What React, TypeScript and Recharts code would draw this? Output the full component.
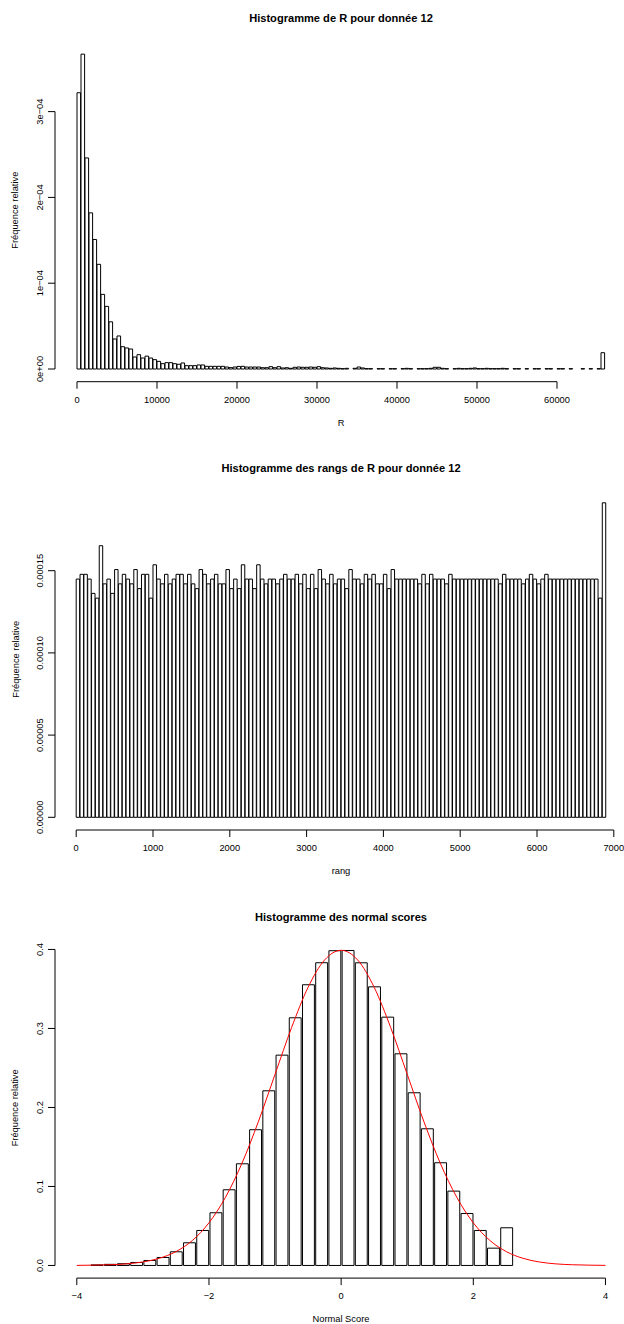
import React from "react";
import {
  ComposedChart,
  Bar,
  Line,
  XAxis,
  YAxis,
  ReferenceLine,
} from "recharts";

const FONT = '"Liberation Sans", Arial, Helvetica, sans-serif';

// ---- Histogramme de R (densité, en unités de 1e-4), classes de 500
const rBreakStart = 0;
const rBreakWidth = 500;
const rDensityE4 = [
  3.22, 3.67, 2.46, 1.82, 1.51, 1.22, 0.87, 0.73, 0.55, 0.35,
  0.385, 0.26, 0.245, 0.233, 0.14, 0.167, 0.128, 0.15, 0.128, 0.109,
  0.089, 0.062, 0.074, 0.074, 0.062, 0.055, 0.07, 0.039, 0.039, 0.039,
  0.047, 0.047, 0.031, 0.031, 0.031, 0.031, 0.031, 0.023, 0.016, 0.023,
  0.03, 0.031, 0.023, 0.023, 0.023, 0.023, 0.015, 0.015, 0.027, 0.015,
  0.027, 0.012, 0.015, 0.008, 0.02, 0.023, 0.02, 0.02, 0.023, 0.02,
  0.027, 0.015, 0.012, 0.008, 0.012, 0.008, 0.004, 0.008, 0, 0.008,
  0.023, 0.012, 0.004, 0.004, 0, 0.004, 0.004, 0, 0.004, 0.004,
  0, 0.004, 0.008, 0.004, 0, 0.004, 0.004, 0.004, 0.008, 0.02,
  0.02, 0.008, 0.004, 0, 0.004, 0.008, 0.004, 0.004, 0.008, 0.012,
  0.004, 0.004, 0.008, 0.004, 0.004, 0.004, 0.008, 0.004, 0, 0.004,
  0.004, 0, 0.004, 0, 0.004, 0.004, 0, 0.004, 0.004, 0,
  0.004, 0.004, 0, 0.004, 0, 0, 0.004, 0, 0.004, 0,
  0.004, 0.19,
];
const rXTicks = [0, 10000, 20000, 30000, 40000, 50000, 60000];
const rXLabels = ["0", "10000", "20000", "30000", "40000", "50000", "60000"];
const rYTicks = [0, 1e-4, 2e-4, 3e-4];
const rYLabels = ["0e+00", "1e\u221204", "2e\u221204", "3e\u221204"];

// ---- Histogramme des rangs (densité, en unités de 1e-4), classes de 50
const rankBreakStart = 0;
const rankBreakWidth = 50;
const rankDensityE4 = [
  1.449, 1.478, 1.478, 1.449, 1.362, 1.333, 1.652, 1.42, 1.449, 1.362,
  1.507, 1.42, 1.478, 1.449, 1.42, 1.507, 1.391, 1.478, 1.478, 1.333,
  1.536, 1.449, 1.42, 1.478, 1.42, 1.449, 1.478, 1.478, 1.42, 1.478,
  1.42, 1.391, 1.507, 1.478, 1.42, 1.449, 1.478, 1.42, 1.42, 1.507,
  1.391, 1.449, 1.391, 1.536, 1.449, 1.449, 1.391, 1.536, 1.449, 1.42,
  1.449, 1.449, 1.42, 1.449, 1.478, 1.449, 1.449, 1.478, 1.42, 1.478,
  1.391, 1.478, 1.391, 1.507, 1.449, 1.42, 1.478, 1.42, 1.449, 1.449,
  1.391, 1.507, 1.449, 1.449, 1.42, 1.478, 1.449, 1.478, 1.42, 1.42,
  1.478, 1.391, 1.507, 1.449, 1.449, 1.449, 1.449, 1.449, 1.449, 1.42,
  1.478, 1.42, 1.478, 1.449, 1.449, 1.449, 1.42, 1.478, 1.449, 1.449,
  1.449, 1.449, 1.449, 1.449, 1.449, 1.449, 1.449, 1.449, 1.449, 1.449,
  1.42, 1.478, 1.449, 1.449, 1.449, 1.449, 1.42, 1.449, 1.478, 1.449,
  1.42, 1.449, 1.478, 1.449, 1.449, 1.449, 1.449, 1.449, 1.449, 1.449,
  1.449, 1.449, 1.449, 1.449, 1.449, 1.449, 1.333, 1.913,
];
const rankXTicks = [0, 1000, 2000, 3000, 4000, 5000, 6000, 7000];
const rankXLabels = ["0", "1000", "2000", "3000", "4000", "5000", "6000", "7000"];
const rankYTicks = [0, 5e-5, 1e-4, 1.5e-4];
const rankYLabels = ["0.00000", "0.00005", "0.00010", "0.00015"];

// ---- Histogramme des normal scores, classes de 0.2 depuis -3.8
const nsBreakStart = -3.8;
const nsBreakWidth = 0.2;
const nsDensity = [
  0.0007, 0.0014, 0.0022, 0.0038, 0.0063, 0.0101, 0.0173, 0.0287,
  0.0443, 0.0667, 0.0958, 0.1287, 0.1718, 0.2211, 0.2662, 0.3135,
  0.3553, 0.3832, 0.3984, 0.3987, 0.3831, 0.3527, 0.3143, 0.2679,
  0.2186, 0.173, 0.13, 0.0941, 0.0658, 0.0443, 0.0219, 0.0477,
];
// courbe rouge
const curveX = [
  -4, -3.75, -3.5, -3.25, -3, -2.75, -2.5, -2.25, -2, -1.75, -1.5, -1.25,
  -1, -0.75, -0.5, -0.25, 0, 0.25, 0.5, 0.75, 1, 1.25, 1.5, 1.75, 2, 2.25,
  2.5, 2.75, 3, 3.25, 3.5, 3.75, 4,
];
const curveY = [
  0.0001, 0.0004, 0.0009, 0.002, 0.0044, 0.0091, 0.0175, 0.0317, 0.054,
  0.0863, 0.1295, 0.1826, 0.242, 0.3011, 0.3521, 0.3867, 0.3989, 0.3867,
  0.3521, 0.3011, 0.242, 0.1826, 0.1295, 0.0863, 0.054, 0.0317, 0.0175,
  0.0091, 0.0044, 0.002, 0.0009, 0.0004, 0.0001,
];
const nsXTicks = [-4, -2, 0, 2, 4];
const nsXLabels = ["\u22124", "\u22122", "0", "2", "4"];
const nsYTicks = [0, 0.1, 0.2, 0.3, 0.4];
const nsYLabels = ["0.0", "0.1", "0.2", "0.3", "0.4"];

// ---- mise en page
const W = 624;
const H = 1324;
const YAXIS_W = 55;
const PLOT_RIGHT = 620;
const XAXIS_H = 30;
const TICK = 7;
const AXIS_FS = 9.3;
const TITLE_FS = 11.1;

const toBins = (start: number, width: number, vals: number[], scale = 1) =>
  vals.map((v, i) => ({ x: start + (i + 0.5) * width, y: v * scale }));

const panels = [
  {
    title: "Histogramme de R pour donnée 12",
    xLabel: "R",
    bins: toBins(rBreakStart, rBreakWidth, rDensityE4, 1e-4),
    binWidth: rBreakWidth,
    xDomain: [-2750, 67875],
    yDomain: [-1.48e-5, 3.85e-4],
    plotTop: 38.7,
    plotBottom: 381.7,
    xTicks: rXTicks,
    xLabels: rXLabels,
    yTicks: rYTicks,
    yLabels: rYLabels,
  },
  {
    title: "Histogramme des rangs de R pour donnée 12",
    xLabel: "rang",
    bins: toBins(rankBreakStart, rankBreakWidth, rankDensityE4, 1e-4),
    binWidth: rankBreakWidth,
    xDomain: [-276, 7080.7],
    yDomain: [-7.725e-6, 2.0e-4],
    plotTop: 488.5,
    plotBottom: 830,
    xTicks: rankXTicks,
    xLabels: rankXLabels,
    yTicks: rankYTicks,
    yLabels: rankYLabels,
  },
  {
    title: "Histogramme des normal scores",
    xLabel: "Normal Score",
    bins: toBins(nsBreakStart, nsBreakWidth, nsDensity),
    binWidth: nsBreakWidth,
    curve: curveX.map((x, i) => ({ x, y: curveY[i] })),
    xDomain: [-4.33, 4.22],
    yDomain: [-0.016, 0.415],
    plotTop: 937.6,
    plotBottom: 1278.1,
    xTicks: nsXTicks,
    xLabels: nsXLabels,
    yTicks: nsYTicks,
    yLabels: nsYLabels,
  },
];

const marginOf = (p: any) => ({
  top: p.plotTop,
  right: W - PLOT_RIGHT,
  bottom: H - p.plotBottom - XAXIS_H,
  left: 0,
});

// courbe dans un graphique superposé, même géométrie, pour ne pas
// fausser la largeur des barres calculée sur l'axe numérique
function CurveLayer({ p }: { p: any }) {
  return (
    <div style={{ position: "absolute", left: 0, top: 0 }}>
      <ComposedChart width={W} height={H} data={p.curve} margin={marginOf(p)}>
        <XAxis
          type="number"
          dataKey="x"
          domain={p.xDomain}
          allowDataOverflow
          height={XAXIS_H}
          tick={false}
          tickLine={false}
          axisLine={false}
        />
        <YAxis
          type="number"
          domain={p.yDomain}
          allowDataOverflow
          width={YAXIS_W}
          tick={false}
          tickLine={false}
          axisLine={false}
        />
        <Line
          dataKey="y"
          type="monotone"
          stroke="#ff0000"
          strokeWidth={1}
          dot={false}
          activeDot={false}
          isAnimationActive={false}
        />
      </ComposedChart>
    </div>
  );
}

function Panel({ p }: { p: any }) {
  const plotW = PLOT_RIGHT - YAXIS_W;
  const barPx = (p.binWidth * plotW) / (p.xDomain[1] - p.xDomain[0]);
  const lastX = p.xTicks[p.xTicks.length - 1];
  const lastY = p.yTicks[p.yTicks.length - 1];
  return (
    <div style={{ position: "absolute", left: 0, top: 0 }}>
      <ComposedChart
        width={W}
        height={H}
        data={p.bins}
        margin={marginOf(p)}
        barCategoryGap={0}
        barGap={0}
      >
        <XAxis
          type="number"
          dataKey="x"
          domain={p.xDomain}
          allowDataOverflow
          ticks={p.xTicks}
          interval={0}
          height={XAXIS_H}
          tickSize={TICK}
          tickMargin={0}
          axisLine={false}
          tickLine={{ stroke: "#000" }}
          tick={(t: any) => (
            <text
              x={t.x}
              y={t.y + 14}
              textAnchor="middle"
              fontSize={AXIS_FS}
              fontFamily={FONT}
              fill="#000"
            >
              {p.xLabels[p.xTicks.indexOf(t.payload.value)]}
            </text>
          )}
        />
        <YAxis
          type="number"
          domain={p.yDomain}
          allowDataOverflow
          ticks={p.yTicks}
          interval={0}
          width={YAXIS_W}
          tickSize={TICK}
          tickMargin={0}
          axisLine={false}
          tickLine={{ stroke: "#000" }}
          tick={(t: any) => (
            <text
              x={t.x - 5}
              y={t.y}
              transform={`rotate(-90 ${t.x - 5} ${t.y})`}
              textAnchor="middle"
              fontSize={AXIS_FS}
              fontFamily={FONT}
              fill="#000"
            >
              {p.yLabels[p.yTicks.indexOf(t.payload.value)]}
            </text>
          )}
        />
        <Bar
          dataKey="y"
          fill="#fff"
          stroke="#000"
          strokeWidth={1}
          barSize={barPx}
          isAnimationActive={false}
        />
        <ReferenceLine
          segment={[
            { x: p.xTicks[0], y: p.yDomain[0] },
            { x: lastX, y: p.yDomain[0] },
          ]}
          stroke="#000"
          ifOverflow="visible"
        />
        <ReferenceLine
          segment={[
            { x: p.xDomain[0], y: p.yTicks[0] },
            { x: p.xDomain[0], y: lastY },
          ]}
          stroke="#000"
          ifOverflow="visible"
        />
      </ComposedChart>
    </div>
  );
}

export default function App() {
  return (
    <div
      style={{
        position: "absolute",
        left: 0,
        top: 0,
        width: W,
        height: H,
        background: "#fff",
        overflow: "hidden",
      }}
    >
      {panels.map((p, i) => (
        <Panel key={i} p={p} />
      ))}
      {panels.map((p, i) => (p.curve ? <CurveLayer key={"c" + i} p={p} /> : null))}
      <svg
        width={W}
        height={H}
        style={{ position: "absolute", left: 0, top: 0, pointerEvents: "none" }}
      >
        {panels.map((p, i) => {
          const cx = (YAXIS_W + 627) / 2;
          const cy = (p.plotTop + p.plotBottom) / 2;
          return (
            <g key={i} fontFamily={FONT} fill="#000">
              <text
                x={cx}
                y={p.plotTop - 16.7}
                textAnchor="middle"
                fontSize={TITLE_FS}
                fontWeight="bold"
              >
                {p.title}
              </text>
              <text
                x={cx}
                y={p.plotBottom + 44.3}
                textAnchor="middle"
                fontSize={AXIS_FS}
              >
                {p.xLabel}
              </text>
              <text
                x={18.5}
                y={cy}
                transform={`rotate(-90 18.5 ${cy})`}
                textAnchor="middle"
                fontSize={AXIS_FS}
              >
                Fréquence relative
              </text>
            </g>
          );
        })}
      </svg>
    </div>
  );
}
